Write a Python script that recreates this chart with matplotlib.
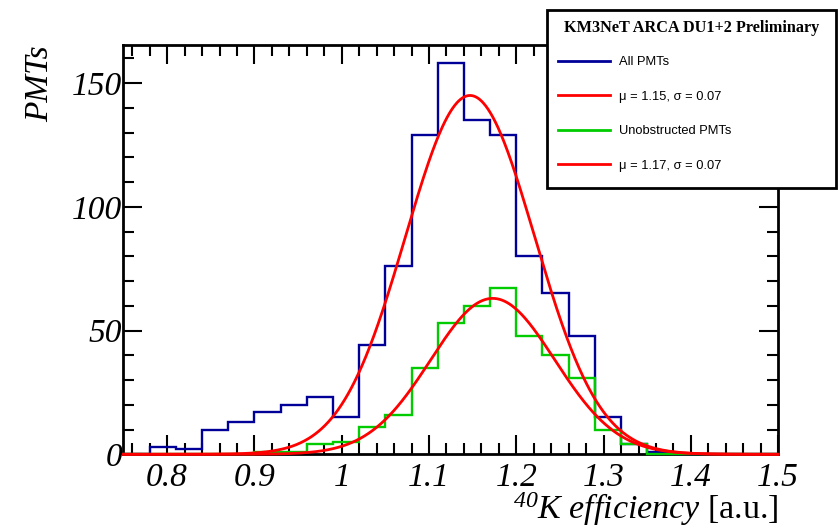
"""K-40 efficiency per PMT, ARCA DU1+2, with gaussian fits."""

import matplotlib
matplotlib.use("Agg")
import matplotlib.pyplot as plt
import numpy as np
from matplotlib.lines import Line2D
from matplotlib.patches import Rectangle
from matplotlib.ticker import FuncFormatter, MultipleLocator

# histogram binning: 25 bins from 0.75 to 1.5
x_range = (0.75, 1.5)
n_bins = 25

all_pmts = [0, 3, 2, 10, 13, 17, 20, 23, 15, 44, 76, 129, 158,
            135, 129, 80, 65, 48, 15, 4, 1, 0, 0, 0, 0]
unobstructed = [0, 0, 0, 0, 0, 1, 1, 4, 5, 11, 16, 35, 53,
                60, 67, 48, 40, 31, 10, 4, 0, 0, 0, 0, 0]

# gaussian fit parameters (amplitude, mean, sigma)
fit_all = (145.0, 1.147, 0.074)
fit_unobstructed = (63.0, 1.173, 0.071)

legend_title = "KM3NeT ARCA DU1+2 Preliminary"
legend_labels = ["All PMTs", "\u03bc = 1.15, \u03c3 = 0.07",
                 "Unobstructed PMTs", "\u03bc = 1.17, \u03c3 = 0.07"]

BLUE = "#000099"
GREEN = "#00cc00"
RED = "#ff0000"


def gauss(x, amp, mu, sigma):
    return amp * np.exp(-0.5 * ((x - mu) / sigma) ** 2)


def main():
    plt.rcParams["font.family"] = "serif"
    plt.rcParams["font.serif"] = ["Liberation Serif", "DejaVu Serif"]
    plt.rcParams["font.style"] = "italic"
    plt.rcParams["mathtext.fontset"] = "custom"
    plt.rcParams["mathtext.rm"] = "Liberation Serif"
    plt.rcParams["mathtext.it"] = "Liberation Serif:italic"

    fig = plt.figure(figsize=(8.4, 5.28), dpi=100)
    ax = fig.add_axes([0.147, 0.1396, 0.7794, 0.7752])

    edges = np.linspace(x_range[0], x_range[1], n_bins + 1)
    xs = np.linspace(x_range[0], x_range[1], 800)

    ax.stairs(all_pmts, edges, color=BLUE, lw=1.7, zorder=3, clip_on=False)
    ax.stairs(unobstructed, edges, color=GREEN, lw=1.7, zorder=3.1, clip_on=False)
    ax.plot(xs, gauss(xs, *fit_all), color=RED, lw=2.0, zorder=4, clip_on=False)
    ax.plot(xs, gauss(xs, *fit_unobstructed), color=RED, lw=2.0, zorder=4, clip_on=False)

    ax.set_xlim(*x_range)
    ax.set_ylim(0, 165.4)

    ax.xaxis.set_major_locator(MultipleLocator(0.1))
    ax.xaxis.set_minor_locator(MultipleLocator(0.02))
    ax.yaxis.set_major_locator(MultipleLocator(50))
    ax.yaxis.set_minor_locator(MultipleLocator(10))
    ax.xaxis.set_major_formatter(FuncFormatter(lambda v, p: f"{v:g}"))
    ax.yaxis.set_major_formatter(FuncFormatter(lambda v, p: f"{v:g}"))

    ax.tick_params(which="both", direction="in", top=True, right=True,
                   width=1.5, labelsize=24)
    ax.tick_params(which="major", length=14)
    ax.tick_params(which="minor", length=8)
    ax.tick_params(axis="x", pad=6)
    ax.tick_params(axis="y", pad=1)
    for s in ax.spines.values():
        s.set_linewidth(2.0)

    ax.set_ylabel("PMTs", fontsize=24, loc="top")
    ax.yaxis.set_label_coords(-0.104, 1.0)
    ax.set_xlabel(r"$^{40}K\ efficiency$ [a.u.]", fontsize=24.5, fontstyle="normal", loc="right")
    ax.xaxis.set_label_coords(1.0, -0.088)

    # legend box (ROOT style, pinned to the top right corner)
    box = Rectangle((547 / 840, 1 - 188 / 528), 289 / 840, 178 / 528,
                    transform=fig.transFigure, fc="white", ec="black", lw=2.0, zorder=5)
    fig.add_artist(box)
    fig.text(0.8232, 1 - 28 / 528, legend_title, ha="center", va="center",
             family="Liberation Serif", fontweight="bold", fontstyle="normal",
             fontsize=11.7, zorder=6)
    handles = [Line2D([], [], color=c, lw=2.0) for c in (BLUE, RED, GREEN, RED)]
    leg = fig.legend(handles, legend_labels, loc="upper left",
                     bbox_to_anchor=(558 / 840, 1 - 56 / 528), frameon=False,
                     borderpad=0, borderaxespad=0, handlelength=4.0,
                     handletextpad=0.75, labelspacing=1.75,
                     prop=dict(family="Liberation Sans", size=9.3, style="normal"))
    leg.set_zorder(7)

    fig.savefig("out.png", dpi=100)
    plt.close(fig)


if __name__ == "__main__":
    main()
